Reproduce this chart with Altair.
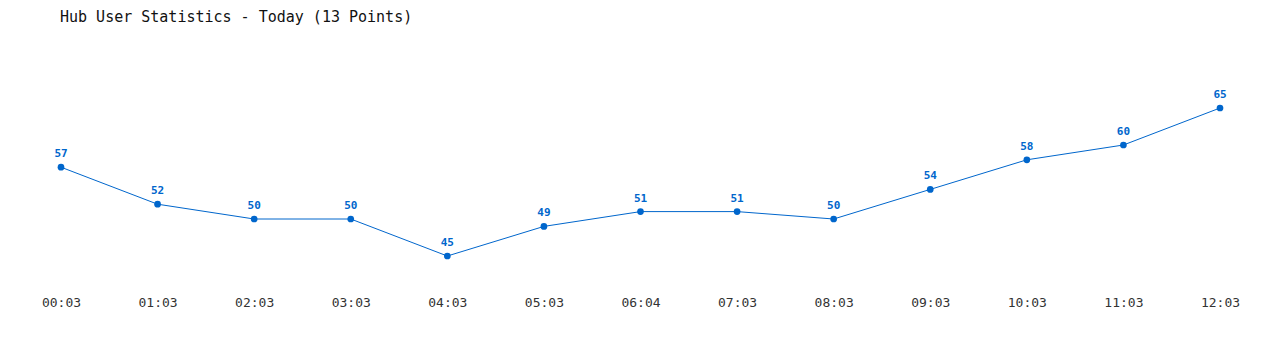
import altair as alt
import pandas as pd

times = ["00:03", "01:03", "02:03", "03:03", "04:03", "05:03", "06:04",
         "07:03", "08:03", "09:03", "10:03", "11:03", "12:03"]
users = [57, 52, 50, 50, 45, 49, 51, 51, 50, 54, 58, 60, 65]

df = pd.DataFrame({"time": times, "users": users})

MONO = "DejaVu Sans Mono"
BLUE = "#0066cc"

x = alt.X("time:N", sort=times, scale=alt.Scale(type="point", padding=0),
          axis=alt.Axis(title=None, ticks=False, domain=False, grid=False,
                        labelAngle=0, labelFont=MONO, labelFontSize=13,
                        labelColor="#333333", labelPadding=3))
y = alt.Y("users:Q", scale=alt.Scale(domain=[40, 70], zero=False, nice=False),
          axis=None)

base = alt.Chart(df).encode(x=x, y=y)

line = base.mark_line(color=BLUE, strokeWidth=1)
pts = base.mark_point(filled=True, color=BLUE, size=45, opacity=1)
labels = base.mark_text(dy=-13, font=MONO, fontSize=11, fontWeight="bold",
                        color=BLUE).encode(text="users:Q")

chart = (line + pts + labels).properties(
    width=1159,
    height=222,
    padding={"left": 61, "top": 71, "right": 60, "bottom": 57},
    autosize=alt.AutoSizeParams(type="none"),
    title=alt.TitleParams("Hub User Statistics - Today (13 Points)",
                          anchor="start", frame="group", dx=-1, font=MONO,
                          fontSize=15, fontWeight="normal", color="#111111",
                          offset=46),
).configure_view(stroke=None)

chart.save("out.html", embed_options={"renderer": "svg", "actions": False})
